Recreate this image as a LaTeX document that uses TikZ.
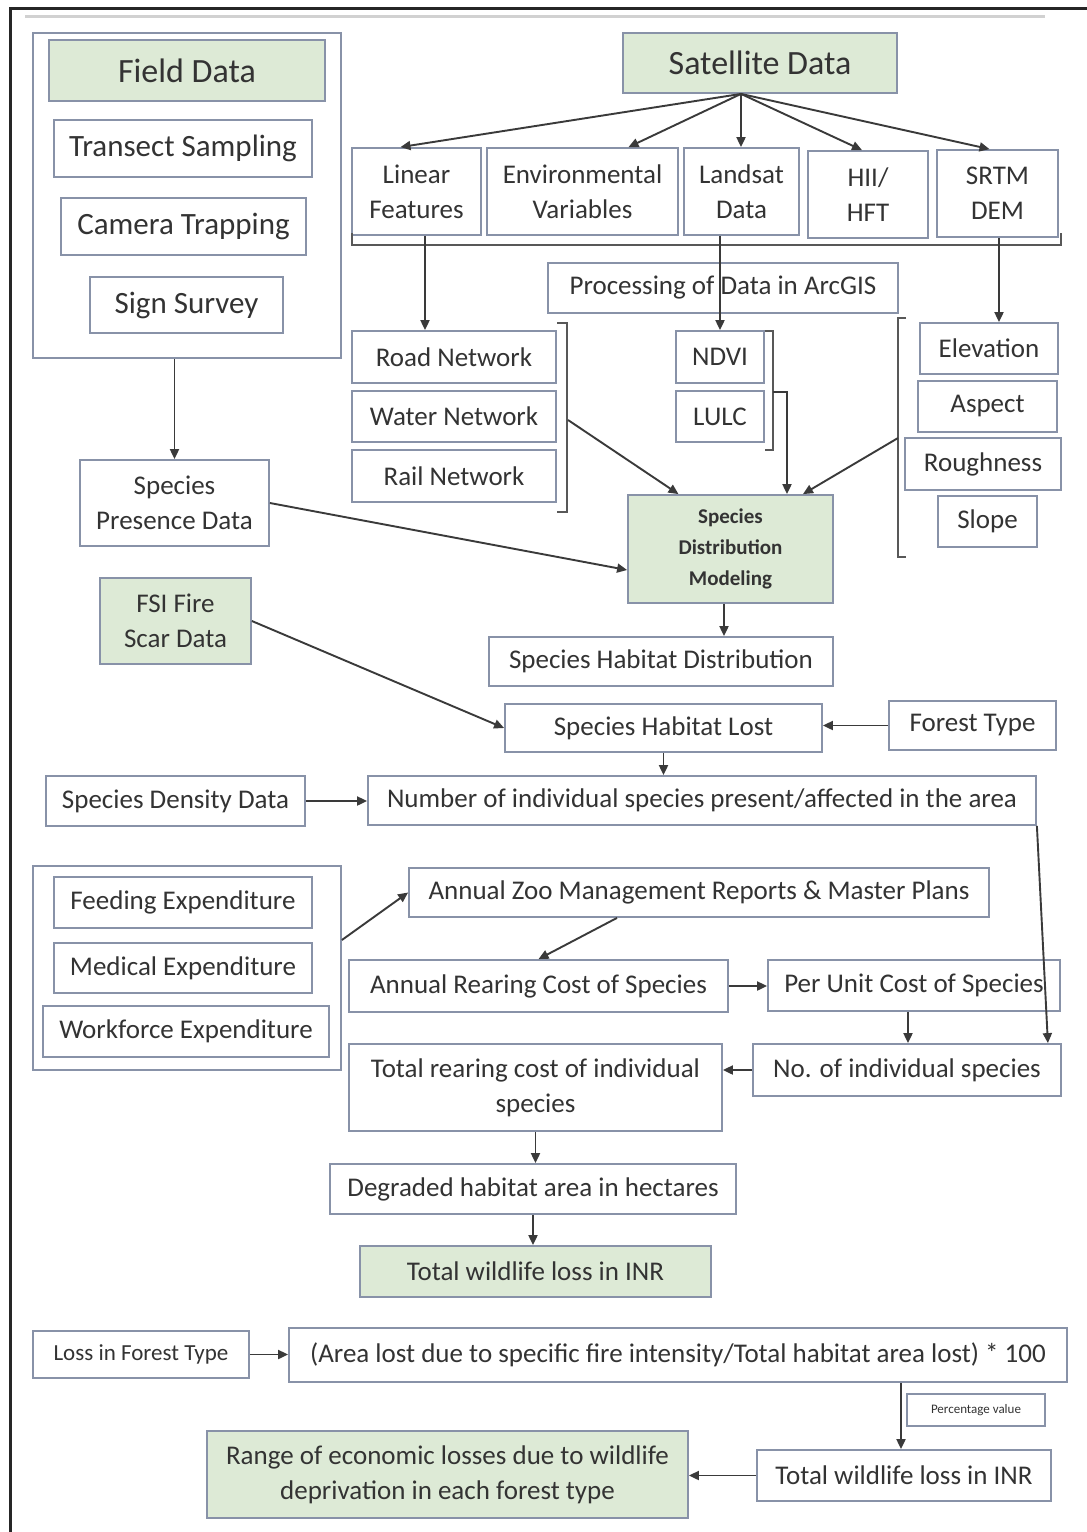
\documentclass[tikz,border=0pt]{standalone}
\usepackage{fontspec}
\setmainfont{Carlito}
\usetikzlibrary{arrows.meta}
\definecolor{boxc}{HTML}{8892A8}
\definecolor{grn}{HTML}{DDEAD6}
\definecolor{txt}{HTML}{333333}
\definecolor{arrc}{HTML}{3A3A3A}
\newcommand\fsz[2]{\fontsize{#1}{#2}\selectfont}
\tikzset{
  box/.style={draw=boxc, line width=1.8pt, fill=white, inner sep=0pt,
    align=center, text=txt, font=\fsz{27}{35}},
  gbox/.style={box, fill=grn},
  grp/.style={draw=boxc, line width=1.8pt, inner sep=0pt},
  arr/.style={draw=arrc, line width=1.9pt, -{Triangle[length=10pt,width=9pt]}},
  brk/.style={draw=arrc!85, line width=1.6pt},
  sz/.style 2 args={minimum width=#1pt, minimum height=#2pt},
}
\begin{document}
\begin{tikzpicture}[x=1pt, y=-1pt]
\useasboundingbox (0,0) rectangle (1087,1532);
\fill[white] (0,0) rectangle (1087,1532);
% page frame
\draw[black!85, line width=3pt] (10,1532) -- (10,8) -- (1087,8);
\draw[black!18, line width=3pt] (25,16) -- (1045,16);

% ---------- field data group ----------
\node[grp, sz={308}{325}] (fieldgrp) at (187,195.5) {};
\node[gbox, sz={276}{61}, font=\fsz{34}{40}] (field) at (187,70.5) {Field Data};
\node[box, sz={258}{57}, font=\fsz{31}{36}] (transect) at (183,148.5) {Transect Sampling};
\node[box, sz={245}{57}, font=\fsz{31}{36}] (camera) at (183.5,226.5) {Camera Trapping};
\node[box, sz={193}{56}, font=\fsz{31}{36}] (sign) at (186.5,305) {Sign Survey};

% ---------- satellite data ----------
\node[gbox, sz={274}{60}, font=\fsz{34}{40}] (sat) at (760,63) {Satellite Data};
\node[box, sz={129}{87}] (linear) at (416.5,191.5) {Linear\\Features};
\node[box, sz={191}{87}] (env) at (582.5,191.5) {Environmental\\Variables};
\node[box, sz={115}{87}] (landsat) at (741.5,191.5) {Landsat\\Data};
\node[box, sz={120}{87}] (hii) at (868,194.5) {HII/\\HFT};
\node[box, sz={121}{87}] (srtm) at (997.5,193.5) {SRTM\\DEM};
\node[box, sz={350}{50}] (arcgis) at (723,288) {Processing of Data in ArcGIS};

\node[box, sz={204}{52}] (road) at (454,357) {Road Network};
\node[box, sz={204}{51}] (water) at (454,416.5) {Water Network};
\node[box, sz={204}{52}] (rail) at (454,476) {Rail Network};
\node[box, sz={88}{52}] (ndvi) at (720,357) {NDVI};
\node[box, sz={88}{51}] (lulc) at (720,416.5) {LULC};
\node[box, sz={138}{51}] (elev) at (989,348.5) {Elevation};
\node[box, sz={139}{51}] (aspect) at (987.5,406.5) {Aspect};
\node[box, sz={156}{52}] (rough) at (983,464) {Roughness};
\node[box, sz={99}{51}] (slope) at (987.5,521.5) {Slope};

\node[gbox, sz={205}{108}, font=\fsz{21}{31}\bfseries] (sdm) at (730.5,549) {Species\\Distribution\\Modeling};
\node[box, sz={189}{86}] (presence) at (174.5,503) {Species\\Presence Data};
\node[gbox, sz={151}{86}] (fsi) at (175.5,621) {FSI Fire\\Scar Data};
\node[box, sz={344}{49}] (shd) at (661,661.5) {Species Habitat Distribution};
\node[box, sz={317}{48}] (shl) at (663.5,728) {Species Habitat Lost};
\node[box, sz={167}{49}] (forest) at (972.5,725.5) {Forest Type};
\node[box, sz={259}{50}] (density) at (175.5,801) {Species Density Data};
\node[box, sz={668}{49}] (number) at (702,800.5) {Number of individual species present/affected in the area};

% ---------- expenditure group ----------
\node[grp, sz={308}{204}] (expgrp) at (187,968) {};
\node[box, sz={258}{51}] (feeding) at (183,902.5) {Feeding Expenditure};
\node[box, sz={258}{50}] (medical) at (183,968) {Medical Expenditure};
\node[box, sz={286}{51}] (workforce) at (186,1031.5) {Workforce Expenditure};

\node[box, sz={580}{49}] (zoo) at (699,892.5) {Annual Zoo Management Reports \& Master Plans};
\node[box, sz={379}{52}] (rearing) at (538.5,986) {Annual Rearing Cost of Species};
\node[box, sz={292}{51}] (perunit) at (914,985.5) {Per Unit Cost of Species};
\node[box, sz={308}{52}] (noind) at (907,1070) {No. of individual species};
\node[box, sz={373}{87}] (totrear) at (535.5,1087.5) {Total rearing cost of individual\\species};
\node[box, sz={406}{50}] (degraded) at (533,1189) {Degraded habitat area in hectares};
\node[gbox, sz={351}{51}] (total1) at (535.5,1271.5) {Total wildlife loss in INR};

% ---------- forest type losses ----------
\node[box, sz={216}{47}, font=\fsz{23}{28}] (lossft) at (141,1354.5) {Loss in Forest Type};
\node[box, sz={778}{54}, font=\fsz{27}{32}] (formula) at (678,1355) {(Area lost due to specific fire intensity/Total habitat area lost) * 100};
\node[box, sz={138}{32}, font=\fsz{13}{16}] (pct) at (976,1410) {Percentage value};
\node[box, sz={294}{51}] (total2) at (904,1475.5) {Total wildlife loss in INR};
\node[gbox, sz={481}{87}] (range) at (447.5,1474.5) {Range of economic losses due to wildlife\\deprivation in each forest type};

% ---------- brackets ----------
\coordinate (tb1) at (352,233);
\coordinate (tb2) at (352,245);
\coordinate (tb3) at (1061,245);
\coordinate (tb4) at (1061,233);
\draw[brk] (tb1) -- (tb2) -- (tb3) -- (tb4);

\coordinate (nb1) at (557,323);
\coordinate (nb2) at (567,323);
\coordinate (nb3) at (567,512);
\coordinate (nb4) at (557,512);
\coordinate (nbm) at (568,420);
\draw[brk] (nb1) -- (nb2) -- (nb3) -- (nb4);

\coordinate (lb1) at (765,331);
\coordinate (lb2) at (773,331);
\coordinate (lb3) at (773,450);
\coordinate (lb4) at (765,450);
\coordinate (lbm) at (773,392);
\draw[brk] (lb1) -- (lb2) -- (lb3) -- (lb4);

\coordinate (rb1) at (906,318);
\coordinate (rb2) at (898,318);
\coordinate (rb3) at (898,557);
\coordinate (rb4) at (906,557);
\coordinate (rbm) at (898,438);
\draw[brk] (rb1) -- (rb2) -- (rb3) -- (rb4);

% ---------- connectors ----------
\coordinate (fan) at ([xshift=-19pt]sat.south);
\draw[arr] (fan) -- ([xshift=-16pt]linear.north);
\draw[arr] (fan) -- ([xshift=46pt]env.north);
\draw[arr] (fan) -- (fan |- landsat.north);
\draw[arr] (fan) -- ([xshift=-6pt]hii.north);
\draw[arr] (fan) -- ([xshift=-8pt]srtm.north);

\draw[arr] ([xshift=8.5pt]linear.south) -- ([xshift=8.5pt]linear.south |- road.north);
\draw[arr] (landsat.south -| ndvi.north) -- (ndvi.north);
\draw[arr] ([xshift=1.5pt]srtm.south) -- ([xshift=1.5pt]srtm.south |- elev.north);

\draw[arr] (nbm) -- ([xshift=-52pt]sdm.north);
\draw[arr] (lbm) -- ([xshift=56.5pt]sdm.north |- lbm) -- ([xshift=56.5pt]sdm.north);
\draw[arr] (rbm) -- ([xshift=72.5pt]sdm.north);

\draw[arr] (fieldgrp.south -| presence.north) -- (presence.north);
\draw[arr] (presence.east) -- ([yshift=-21pt]sdm.west);
\draw[arr] ([xshift=-6.5pt]sdm.south) -- ([xshift=-6.5pt]sdm.south |- shd.north);
\draw[arr] (fsi.east) -- (shl.west);
\draw[arr] (forest.west) -- (forest.west -| shl.east);
\draw[arr] (shl.south) -- (shl.south |- number.north);
\draw[arr] (density.east) -- (density.east -| number.west);
\draw[arr] (number.south east) -- ([xshift=-14pt]noind.north east);

\draw[arr] ([yshift=28pt]expgrp.east) -- (zoo.west);
\draw[arr] ([xshift=-82pt]zoo.south) -- (rearing.north);
\draw[arr] (rearing.east) -- (rearing.east -| perunit.west);
\draw[arr] ([xshift=-6pt]perunit.south) -- ([xshift=-6pt]perunit.south |- noind.north);
\draw[arr] (noind.west) -- (noind.west -| totrear.east);
\draw[arr] (totrear.south) -- (totrear.south |- degraded.north);
\draw[arr] (degraded.south) -- (degraded.south |- total1.north);

\draw[arr] (lossft.east) -- (lossft.east -| formula.west);
\draw[arr] ([xshift=-3pt]total2.north |- formula.south) -- ([xshift=-3pt]total2.north);
\draw[arr] (total2.west) -- (total2.west -| range.east);
\end{tikzpicture}
\end{document}
